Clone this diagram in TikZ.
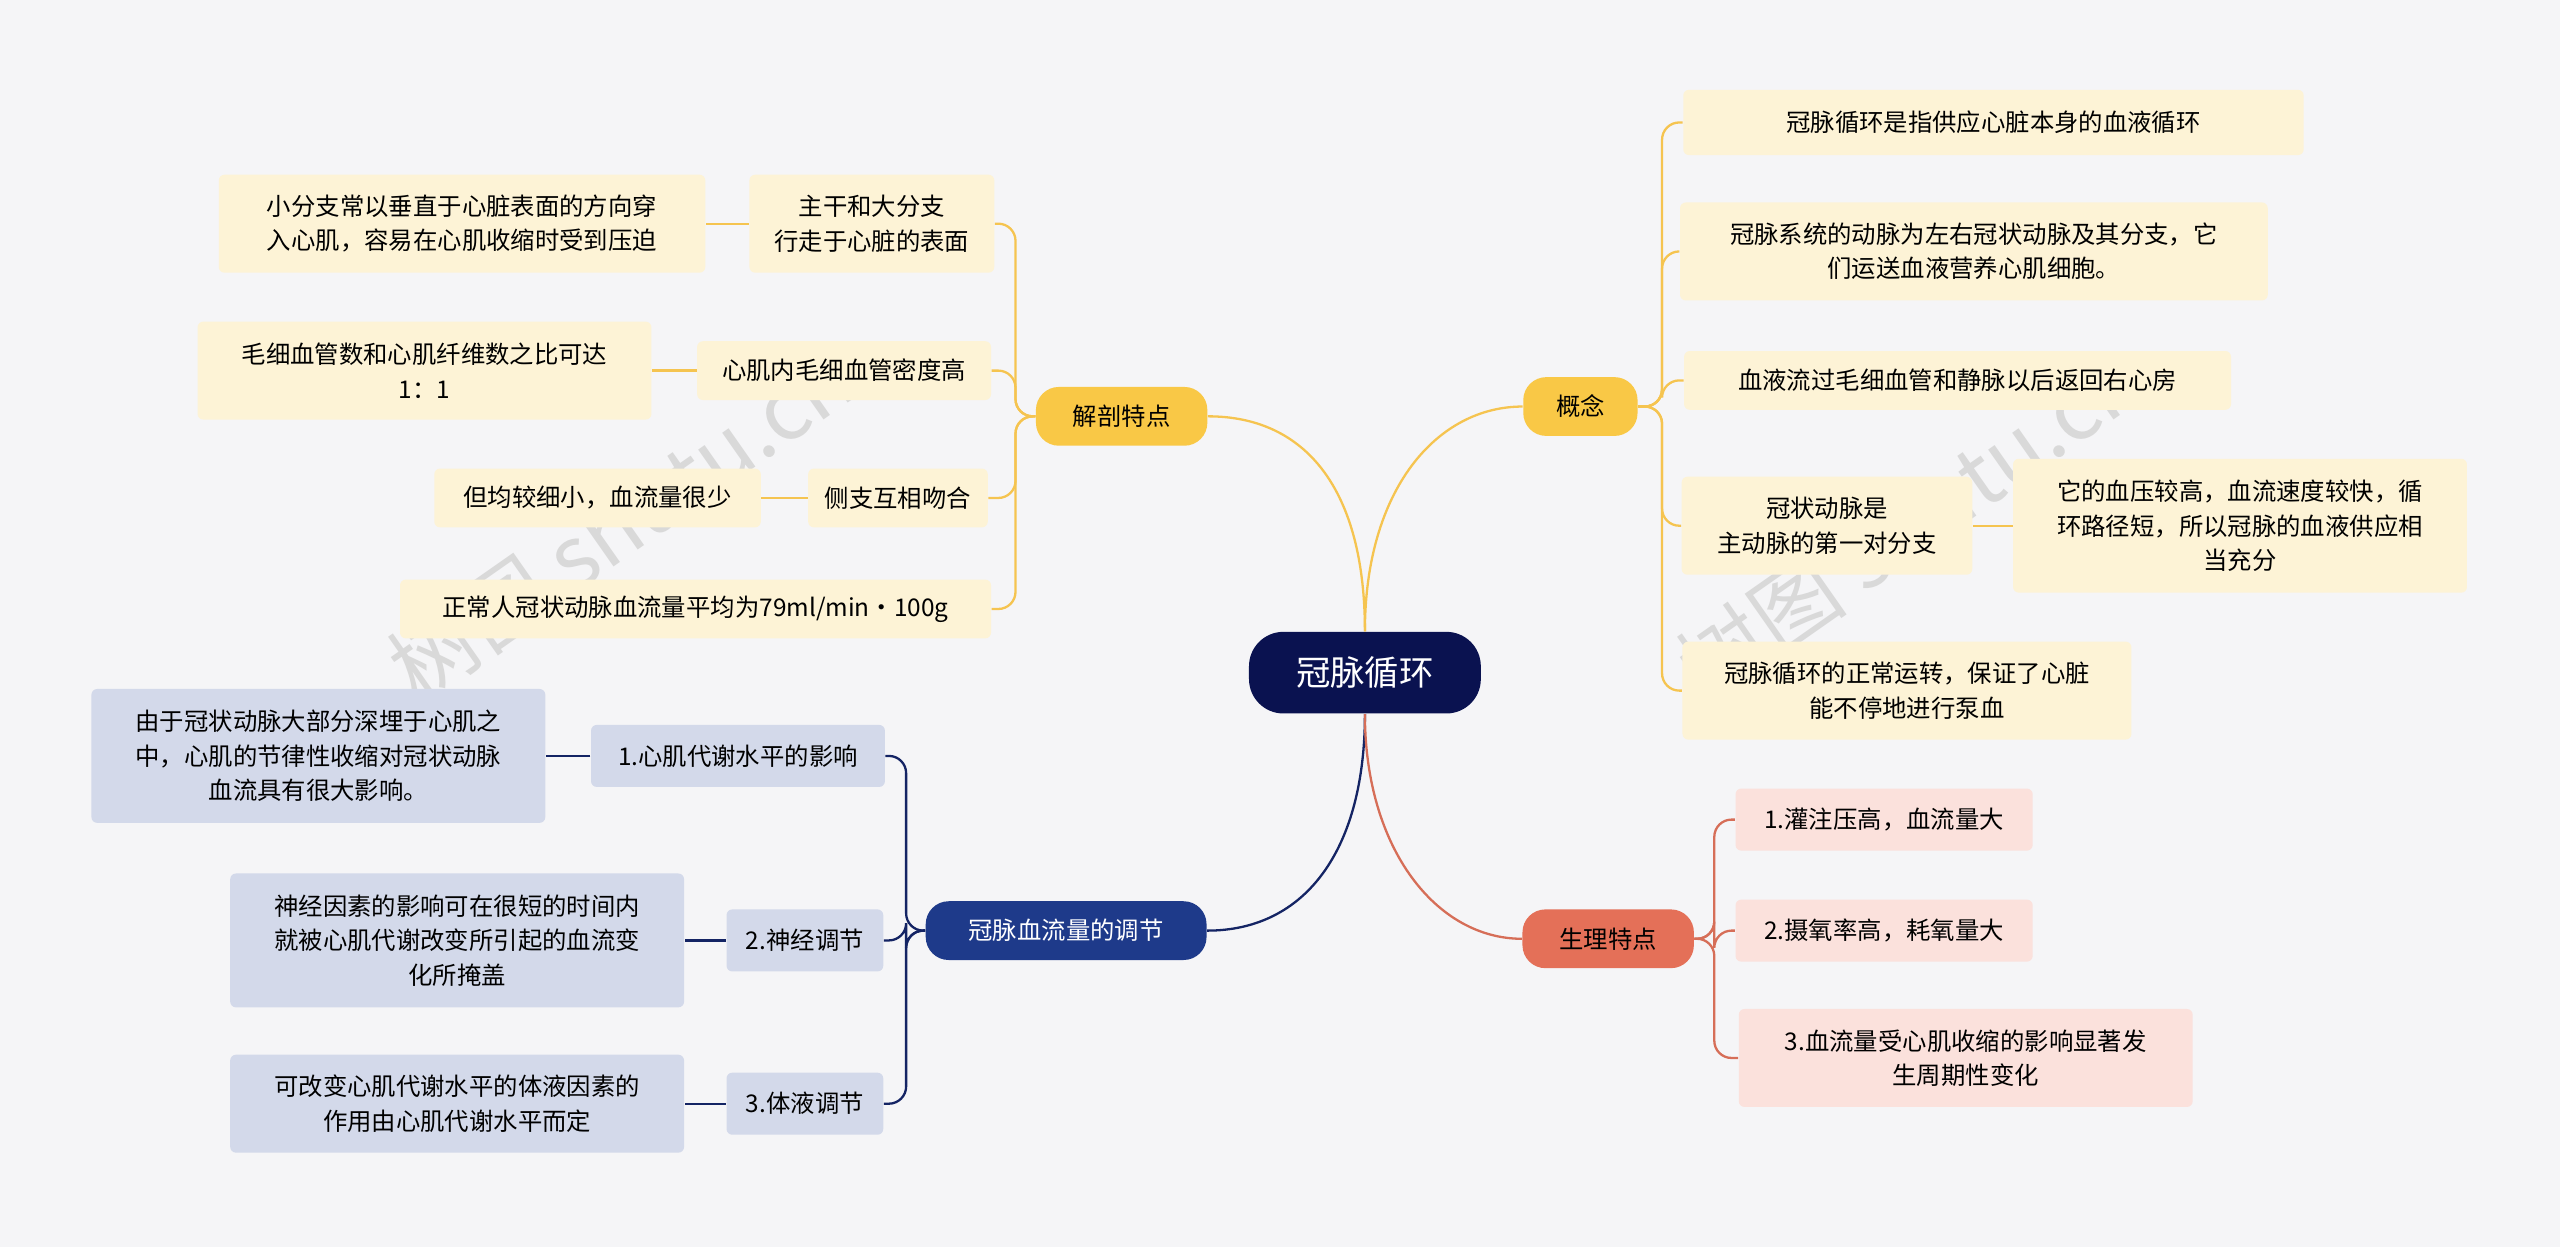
\documentclass[tikz,border=0pt]{standalone}
\usepackage{fontspec}
\setmainfont{Noto Sans CJK SC}
\definecolor{bgc}{RGB}{245,245,247}
\definecolor{navy}{RGB}{10,18,80}
\definecolor{yelc}{RGB}{249,200,70}
\definecolor{bluc}{RGB}{30,58,138}
\definecolor{redc}{RGB}{228,112,88}
\definecolor{yleafc}{RGB}{253,243,214}
\definecolor{bleafc}{RGB}{211,217,234}
\definecolor{rleafc}{RGB}{251,225,220}
\definecolor{ylinec}{RGB}{245,196,80}
\definecolor{blinec}{RGB}{20,36,100}
\definecolor{rlinec}{RGB}{214,110,88}
\def\u{0.02cm}
\begin{document}
\begin{tikzpicture}[x=0.02cm,y=-0.02cm,
root/.style={rounded corners=12pt, fill=navy, text=white, font=\fontsize{12}{14}\selectfont, minimum height=50*\u, minimum width=142*\u},
yel/.style={rounded corners=8pt, fill=yelc, minimum height=36*\u},
blu/.style={rounded corners=8pt, fill=bluc, text=white, minimum height=36*\u},
red/.style={rounded corners=8pt, fill=redc, minimum height=36*\u},
yleaf/.style={fill=yleafc, align=center, rounded corners=2pt},
bleaf/.style={fill=bleafc, align=center, rounded corners=2pt},
rleaf/.style={fill=rleafc, align=center, rounded corners=2pt},
yl/.style={draw=ylinec, line width=0.8pt},
bl/.style={draw=blinec, line width=0.8pt},
rl/.style={draw=rlinec, line width=0.8pt},
wm/.style={text=gray!30, font=\fontsize{30}{30}\selectfont, rotate=35},
every node/.style={font=\fontsize{8.5}{12}\selectfont, inner sep=3pt}
]
\fill[bgc] (0,0) rectangle (1568,764);

%%% watermarks
\node[wm] (wm1) at (380,320) {树图 shutu.cn};
\node[wm] (wm2) at (1170,320) {树图 shutu.cn};

%%% root and branches
\node[root] (R) at (836,412) {冠脉循环};
\node[yel, minimum width=105*\u] (A) at (687,255) {解剖特点};
\node[yel, minimum width=70*\u] (C) at (968,249) {概念};
\node[blu, minimum width=172*\u] (T) at (653,570) {冠脉血流量的调节};
\node[red, minimum width=105*\u] (P) at (985,575) {生理特点};

\draw[yl] (R.north) .. controls (836,300) and (800,255) .. (A.east);
\draw[yl] (R.north) .. controls (836,300) and (880,249) .. (C.west);
\draw[bl] (R.south) .. controls (836,520) and (800,570) .. (T.east);
\draw[rl] (R.south) .. controls (836,520) and (880,575) .. (P.west);

%%% 解剖特点
\node[yleaf, minimum width=150*\u, minimum height=60*\u] (A1) at (534,137) {主干和大分支\\行走于心脏的表面};
\node[yleaf, minimum width=298*\u, minimum height=60*\u] (A1a) at (283,137) {小分支常以垂直于心脏表面的方向穿\\入心肌，容易在心肌收缩时受到压迫};
\node[yleaf, minimum width=180*\u, minimum height=36*\u] (A2) at (517,227) {心肌内毛细血管密度高};
\node[yleaf, minimum width=278*\u, minimum height=60*\u] (A2a) at (260,227) {毛细血管数和心肌纤维数之比可达\\1：1};
\node[yleaf, minimum width=110*\u, minimum height=36*\u] (A3) at (550,305) {侧支互相吻合};
\node[yleaf, minimum width=200*\u, minimum height=36*\u] (A3a) at (366,305) {但均较细小，血流量很少};
\node[yleaf, minimum width=362*\u, minimum height=36*\u] (A4) at (426,373) {正常人冠状动脉血流量平均为79ml/min·100g};
\foreach \c in {A1,A2,A3,A4}{
	\draw[yl, rounded corners=6pt] (A.west) -- (622,255) |- (\c.east);
}
\draw[yl] (A1.west) -- (A1a.east);
\draw[yl] (A2.west) -- (A2a.east);
\draw[yl] (A3.west) -- (A3a.east);

%%% 概念
\node[yleaf, minimum width=380*\u, minimum height=40*\u] (C1) at (1221,75) {冠脉循环是指供应心脏本身的血液循环};
\node[yleaf, minimum width=360*\u, minimum height=60*\u] (C2) at (1209,154) {冠脉系统的动脉为左右冠状动脉及其分支，它\\们运送血液营养心肌细胞。};
\node[yleaf, minimum width=335*\u, minimum height=36*\u] (C3) at (1199,233) {血液流过毛细血管和静脉以后返回右心房};
\node[yleaf, minimum width=178*\u, minimum height=60*\u] (C4) at (1119,322) {冠状动脉是\\主动脉的第一对分支};
\node[yleaf, minimum width=278*\u, minimum height=82*\u] (C4a) at (1372,322) {它的血压较高，血流速度较快，循\\环路径短，所以冠脉的血液供应相\\当充分};
\node[yleaf, minimum width=275*\u, minimum height=60*\u] (C5) at (1168,423) {冠脉循环的正常运转，保证了心脏\\能不停地进行泵血};
\foreach \c in {C1,C2,C3,C4,C5}{
	\draw[yl, rounded corners=6pt] (C.east) -- (1018,249) |- (\c.west);
}
\draw[yl] (C4.east) -- (C4a.west);

%%% 生理特点
\node[rleaf, minimum width=182*\u, minimum height=38*\u] (P1) at (1154,502) {1.灌注压高，血流量大};
\node[rleaf, minimum width=182*\u, minimum height=38*\u] (P2) at (1154,570) {2.摄氧率高，耗氧量大};
\node[rleaf, minimum width=278*\u, minimum height=60*\u] (P3) at (1204,648) {3.血流量受心肌收缩的影响显著发\\生周期性变化};
\foreach \c in {P1,P2,P3}{
	\draw[rl, rounded corners=6pt] (P.east) -- (1050,575) |- (\c.west);
}

%%% 冠脉血流量的调节
\node[bleaf, minimum width=180*\u, minimum height=38*\u] (T1) at (452,463) {1.心肌代谢水平的影响};
\node[bleaf, minimum width=278*\u, minimum height=82*\u] (T1a) at (195,463) {由于冠状动脉大部分深埋于心肌之\\中，心肌的节律性收缩对冠状动脉\\血流具有很大影响。};
\node[bleaf, minimum width=96*\u, minimum height=38*\u] (T2) at (493,576) {2.神经调节};
\node[bleaf, minimum width=278*\u, minimum height=82*\u] (T2a) at (280,576) {神经因素的影响可在很短的时间内\\就被心肌代谢改变所引起的血流变\\化所掩盖};
\node[bleaf, minimum width=96*\u, minimum height=38*\u] (T3) at (493,676) {3.体液调节};
\node[bleaf, minimum width=278*\u, minimum height=60*\u] (T3a) at (280,676) {可改变心肌代谢水平的体液因素的\\作用由心肌代谢水平而定};
\foreach \c in {T1,T2,T3}{
	\draw[bl, rounded corners=6pt] (T.west) -- (555,570) |- (\c.east);
}
\draw[bl] (T1.west) -- (T1a.east);
\draw[bl] (T2.west) -- (T2a.east);
\draw[bl] (T3.west) -- (T3a.east);

\end{tikzpicture}
\end{document}
